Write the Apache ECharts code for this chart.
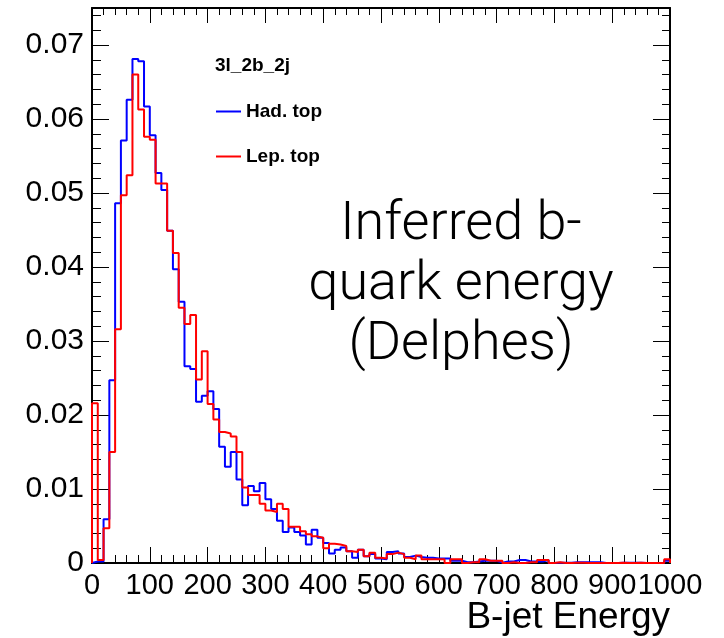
<!DOCTYPE html>
<html><head><meta charset="utf-8">
<script src="https://cdn.jsdelivr.net/npm/echarts@6/dist/echarts.min.js"></script>
<style>html,body{margin:0;padding:0;background:#fff}#c{width:724px;height:638px}</style>
</head><body><div id="c"></div>
<script>
// ---- data ----
const binWidth = 10;
const xMin = 0, xMax = 1000;
const yMin = 0, yMax = 0.075;
const seriesNames = ['Had. top', 'Lep. top'];
const hadTop = [
  0.0002, 0.0002, 0.0059, 0.0247, 0.0486, 0.0571, 0.0626, 0.0681, 0.0678, 0.0617,
  0.0578, 0.0527, 0.0504, 0.0449, 0.0397, 0.0353, 0.0266, 0.0262, 0.0218, 0.0226,
  0.0232, 0.0208, 0.0157, 0.0130, 0.0150, 0.0113, 0.0078, 0.0104, 0.0097, 0.0108,
  0.0086, 0.0073, 0.0057, 0.0042, 0.0048, 0.0042, 0.0037, 0.0025, 0.0045, 0.0034,
  0.0027, 0.0013, 0.0018, 0.0021, 0.0016, 0.0007, 0.0018, 0.0009, 0.0012, 0.0006,
  0.0005, 0.0015, 0.0016, 0.0013, 0.0008, 0.0010, 0.0008, 0.0007, 0.0007, 0.0006,
  0.0006, 0.0006, 0.0003, 0.0003, 0.0001, 0.0001, 0.0002, 0.0003, 0.0003, 0.0003,
  0.00005, 0.0002, 0.0002, 0.0004, 0.0004, 0.0002, 0.0002, 0.0002, 0.0004, 0.0,
  0.00005, 0.00005, 0.00005, 0.0001, 0.0001, 0.0001, 0.0001, 0.0001, 0.0, 0.0,
  0.0, 0.00005, 0.00005, 0.00005, 0.00005, 0.0, 0.0, 0.0, 0.0, 0.0003
];
const lepTop = [
  0.0216, 0.0004, 0.0047, 0.0150, 0.0316, 0.0497, 0.0524, 0.0660, 0.0613, 0.0576,
  0.0572, 0.0513, 0.0513, 0.0449, 0.0419, 0.0345, 0.0323, 0.0335, 0.0248, 0.0286,
  0.0215, 0.0194, 0.0177, 0.0175, 0.0171, 0.0150, 0.0102, 0.0092, 0.0092, 0.0080,
  0.0071, 0.0069, 0.0080, 0.0073, 0.0049, 0.0049, 0.0043, 0.0039, 0.0036, 0.0034,
  0.0020, 0.0026, 0.0025, 0.0023, 0.0016, 0.0015, 0.0018, 0.0009, 0.0014, 0.0007,
  0.0006, 0.0012, 0.0014, 0.0012, 0.0007, 0.0005, 0.0010, 0.0005, 0.0005, 0.0005,
  0.0005, 0.0, 0.0005, 0.0005, 0.0, 0.0001, 0.0001, 0.0005, 0.0003, 0.0003,
  0.0003, 0.0, 0.0001, 0.0, 0.0, 0.0001, 0.0001, 0.0004, 0.0004, 0.0,
  0.0001, 0.0, 0.0, 0.00005, 0.00005, 0.0, 0.0, 0.0, 0.0, 0.0,
  0.0, 0.00005, 0.0, 0.0, 0.00005, 0.0, 0.0, 0.0, 0.0, 0.0005
];
const categoryLabel = '3l_2b_2j';
const xTitle = 'B-jet Energy';
const noteText = 'Inferred b-\nquark energy\n(Delphes)';

// ---- build step points from bin edges ----
function histPoints(vals) {
  const pts = [[xMin, 0]];
  vals.forEach((v, i) => pts.push([xMin + i * binWidth, v]));
  pts.push([xMin + vals.length * binWidth, vals[vals.length - 1]]);
  pts.push([xMin + vals.length * binWidth, 0]);
  return pts;
}

const FONT = 'Liberation Sans, Arial, Helvetica, sans-serif';
const black = '#000';

function xAx(pos, interval, len, labels, line) {
  return {
    type: 'value', position: pos, min: xMin, max: xMax, interval: interval,
    axisLine: { show: line, onZero: false, lineStyle: { color: black, width: 2 } },
    axisTick: { show: true, inside: true, length: len, lineStyle: { color: black, width: 1 } },
    axisLabel: { show: labels, fontSize: 29, color: black, fontFamily: FONT, margin: 8, interval: 0,
      showMinLabel: true, showMaxLabel: true, hideOverlap: false, formatter: v => String(v) },
    splitLine: { show: false }
  };
}
function yAx(pos, interval, len, labels, line) {
  return {
    type: 'value', position: pos, min: yMin, max: yMax, interval: interval,
    axisLine: { show: line, onZero: false, lineStyle: { color: black, width: 2 } },
    axisTick: { show: true, inside: true, length: len, lineStyle: { color: black, width: 1 } },
    axisLabel: { show: labels, fontSize: 30, color: black, fontFamily: FONT, margin: 8,
      formatter: v => (Math.abs(v) < 1e-9 ? '0' : (+v.toFixed(3)).toString()),
      showMaxLabel: false },
    splitLine: { show: false }
  };
}

const chart = echarts.init(document.getElementById('c'), null, { renderer: 'canvas' });
chart.setOption({
  backgroundColor: '#fff',
  animation: false,
  grid: { left: 92, right: 54, top: 8, bottom: 75, containLabel: false, outerBoundsMode: 'none' },
  xAxis: [
    xAx('bottom', 100, 16, true, true),
    xAx('bottom', 20, 8, false, false),
    xAx('top', 100, 15, false, true),
    xAx('top', 20, 7, false, false)
  ],
  yAxis: [
    yAx('left', 0.01, 17, true, true),
    yAx('left', 0.002, 9, false, false),
    yAx('right', 0.01, 17, false, true),
    yAx('right', 0.002, 8, false, false)
  ],
  legend: {
    orient: 'vertical', left: 216, top: 102, padding: 0,
    icon: 'rect', itemWidth: 25, itemHeight: 2, itemGap: 26,
    data: seriesNames,
    textStyle: { fontSize: 19, fontWeight: 'bold', color: black, fontFamily: FONT, padding: [0, 0, 0, 0] }
  },
  graphic: [
    { type: 'text', left: 215, top: 56, style: { text: categoryLabel, font: 'bold 19px ' + FONT, fill: black } },
    { type: 'text', x: 461, y: 195, style: { text: noteText, font: '300 54px Roboto, "Liberation Sans", sans-serif', fill: black, textAlign: 'center', textVerticalAlign: 'top', lineHeight: 60 } },
    { type: 'text', right: 54, top: 599, style: { text: xTitle, font: '37px ' + FONT, fill: black } }
  ],
  series: [
    { name: seriesNames[0], type: 'line', step: 'end', xAxisIndex: 0, yAxisIndex: 0, symbol: 'none', data: histPoints(hadTop),
      lineStyle: { color: '#0000ff', width: 2 }, itemStyle: { color: '#0000ff' } },
    { name: seriesNames[1], type: 'line', step: 'end', xAxisIndex: 0, yAxisIndex: 0, symbol: 'none', data: histPoints(lepTop),
      lineStyle: { color: '#ff0000', width: 2 }, itemStyle: { color: '#ff0000' } }
  ]
});
</script>
</body></html>
